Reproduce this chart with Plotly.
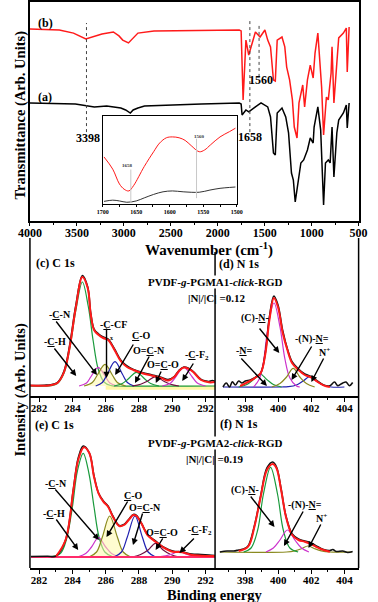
import plotly.graph_objects as go

W, H = 378, 602
FONT = "Liberation Serif, Times New Roman, serif"

# ---------------- FTIR (wavenumber cm-1, transmittance arb. units) ----------------
ftir_b_wn = [4000, 3687, 3536, 3405, 3233, 3112, 3052, 3012, 2951, 2850, 2679, 2174,
             1771, 1751, 1730, 1700, 1670, 1599, 1549, 1498, 1468, 1438, 1407, 1387,
             1367, 1316, 1286, 1266, 1235, 1205, 1185, 1156, 1135, 1095, 1075, 1045,
             1015, 984, 964, 934, 914, 894, 873, 843, 823, 793, 783, 763, 732, 712,
             662, 631, 621, 601]
ftir_b_t = [87.7, 87.2, 85.8, 83.1, 85.4, 86.3, 84.5, 82.6, 81.3, 85.8, 86.8, 87.2,
            87.2, 86.8, 55.3, 82.6, 75.8, 86.3, 84.0, 87.2, 82.6, 79.5, 64.4, 63.9,
            82.6, 84.0, 79.5, 70.3, 64.4, 55.3, 42.9, 37.9, 53.9, 62.1, 52.1, 64.4,
            71.2, 65.3, 76.7, 85.8, 74.9, 61.2, 39.3, 56.6, 55.3, 67.6, 79.5, 53.9,
            72.1, 83.6, 85.8, 88.1, 68.0, 88.6]

ftir_a_wn = [4000, 3687, 3516, 3314, 3183, 3032, 2981, 2931, 2901, 2850, 2780, 2174,
             1771, 1751, 1741, 1700, 1670, 1599, 1539, 1468, 1438, 1407, 1387, 1367,
             1316, 1276, 1246, 1215, 1195, 1175, 1145, 1115, 1085, 1045, 1015, 984,
             974, 934, 904, 894, 873, 853, 823, 803, 783, 763, 732, 712, 662, 631,
             621, 601]
ftir_a_t = [53.9, 53.4, 53.4, 52.1, 52.5, 51.6, 50.7, 49.3, 50.7, 51.6, 52.5, 53.4,
            53.9, 53.4, 48.4, 50.7, 49.8, 52.1, 53.9, 52.1, 47.5, 31.1, 30.1, 49.3,
            51.6, 47.5, 40.2, 21.9, 18.7, 8.7, 18.7, 26.5, 27.9, 32.4, 37.9, 35.6,
            42.9, 52.1, 41.6, 27.9, 7.3, 26.5, 27.9, 26.5, 42.9, 20.1, 40.2, 46.1,
            49.3, 53.0, 42.5, 53.9]

ftir_marks = [3398, 1658, 1560]

# inset, 1700-1500 cm-1
inset_b_wn = [1698, 1685, 1675, 1668, 1661, 1654, 1638, 1624, 1615, 1605, 1596, 1586,
              1577, 1568, 1556, 1548, 1539, 1525, 1511, 1502]
inset_b_t = [53, 39, 22, 16, 14, 20, 42, 59, 69, 75, 76, 75, 72, 66, 59, 61, 67, 76, 82, 86]
inset_a_wn = [1698, 1685, 1675, 1664, 1650, 1638, 1624, 1610, 1596, 1580, 1556, 1540,
              1525, 1511, 1502]
inset_a_t = [2, 3.4, 2.5, 1, 2.5, 6, 10, 13, 14, 13, 12.5, 15, 17, 18, 18.5]

# ---------------- XPS (binding energy eV, intensity arb. units) ----------------
# (c) C 1s, PGMA1
c_raw_be = [281.45, 282.3, 282.7, 283.1, 283.5, 283.85, 284.2, 284.6, 284.92, 285.1, 285.3,
            285.58, 285.85, 286.15, 286.53, 286.9, 287.28, 287.66, 288.2, 288.8, 289.37,
            289.75, 290.12, 290.4, 290.7, 291.0, 291.26, 291.73, 292.0, 292.2, 292.4, 292.57]
c_raw_i = [0.5, 0.8, 1.2, 3.5, 15, 42, 80, 110.5, 99, 73, 57, 52, 49, 47, 37, 26, 20,
           16.5, 13.5, 11, 8.5, 6.5, 9.5, 15.5, 19, 17.5, 14.5, 6.5, 5, 4.5, 5.5, 4.5]
c_fit_be = [281.45, 282.7, 283.1, 283.5, 283.85, 284.2, 284.6, 284.92, 285.1, 285.3, 285.58,
            285.85, 286.15, 286.53, 286.9, 287.28, 287.66, 288.2, 288.8, 289.37, 289.75,
            290.12, 290.4, 290.7, 291.0, 291.26, 291.73, 292.2, 292.57]
c_fit_i = [0.5, 0.8, 3, 14, 40, 78, 109, 98, 72, 56, 51, 48, 46, 36, 25, 19, 16, 12.7,
           10.3, 7.7, 5.5, 9, 15, 18.5, 17, 14, 6, 3.7, 4]
c_comp_be = [
    [281.45, 282.7, 283.1, 283.5, 283.85, 284.2, 284.6, 284.95, 285.25, 285.55, 285.9, 286.3, 286.8, 292.57],
    [284.4, 284.85, 285.1, 285.55, 286.0, 286.25, 286.7],
    [284.7, 285.2, 285.5, 285.96, 286.4, 286.7, 287.2],
    [285.4, 285.8, 286.1, 286.56, 287.0, 287.3, 287.7],
    [286.5, 287.0, 287.35, 287.85, 288.35, 288.7, 289.2],
    [287.6, 288.1, 288.5, 288.99, 289.5, 289.9, 290.4],
    [289.4, 289.9, 290.2, 290.69, 291.2, 291.5, 292.0],
]
c_comp_i = [
    [0, 0.3, 2.5, 13, 38, 75, 104, 80, 45, 17, 4, 0.5, 0, 0],
    [0, 3, 9, 18.7, 9, 3, 0],
    [0, 3.5, 11, 21.7, 11, 3.5, 0],
    [0, 3.5, 12, 24.3, 12, 3.5, 0],
    [0, 2.5, 7, 13.7, 7, 2.5, 0],
    [0, 1.8, 4.7, 9.3, 4.7, 1.8, 0],
    [0, 3, 9, 18.7, 9, 3, 0],
]

# (d) N 1s, PGMA1
d_raw_be = [396.65, 396.85, 397.05, 397.22, 397.4, 397.6, 397.8, 398.0, 398.3, 398.55, 398.93,
            399.22, 399.46, 399.73, 399.98, 400.27, 400.55, 400.84, 401.22, 401.6, 401.98,
            402.36, 402.74, 403.12, 403.4, 403.6, 403.9, 404.1, 404.3, 404.5]
d_raw_i = [0, 4, 0, 5.3, 2, 6, 4, 6, 7, 9, 14, 35, 70, 91, 82, 56, 38, 25, 18, 13, 10.5,
           6, 2, 1.3, 5, 1.3, 4, 5, 1.3, 4.5]
d_fit_be = [397.69, 398.55, 398.93, 399.22, 399.46, 399.73, 399.98, 400.27, 400.55, 400.84,
            401.22, 401.6, 401.98, 402.36, 402.74, 403.12]
d_fit_i = [1, 8.7, 13.7, 33.7, 67, 89, 80, 53.7, 37, 23.7, 17, 12, 9.7, 5.3, 1.7, 0]
d_comp_be = [
    [396.65, 400.2, 400.6, 401.1, 401.5, 401.9, 402.3, 402.7, 403.2, 404.0],
    [397.6, 398.1, 398.5, 398.9, 399.3, 399.7, 400.2],
    [398.5, 398.85, 399.1, 399.35, 399.74, 400.1, 400.4, 400.7, 401.1, 401.3],
    [399.6, 400.1, 400.5, 400.9, 401.3, 401.7, 402.2],
]
d_comp_i = [
    [0, 0, 0.3, 2, 6, 10.3, 6, 2, 0, 0],
    [0, 2.5, 7.5, 13, 7.5, 2.5, 0],
    [0, 8, 25, 57, 84, 60, 28, 9, 1, 0],
    [0, 3.5, 10, 18.7, 10, 3.5, 0],
]

# (e) C 1s, PGMA2
e_raw_be = [281.51, 282.5, 283.02, 283.59, 284.06, 284.35, 284.65, 285.02, 285.3, 285.57,
            285.86, 286.14, 286.43, 286.81, 287.1, 287.38, 287.66, 287.85, 288.14, 288.51,
            288.99, 289.46, 290.03, 290.6, 291.17, 291.74, 292.2, 292.57]
e_raw_i = [0.5, 0.8, 1, 17, 68, 99, 111, 104, 81, 64, 56, 51, 41, 31.5, 32.5, 37.5, 42.5,
           41.5, 34, 22.5, 16, 10, 6, 5, 3, 2.5, 2, 1.5]
e_fit_be = [283.02, 283.59, 284.06, 284.35, 284.69, 285.02, 285.3, 285.57, 285.86, 286.14,
            286.43, 286.81, 287.1, 287.38, 287.66, 287.85, 288.14, 288.51, 288.99, 289.46,
            290.03, 290.6, 291.17, 291.74, 292.57]
e_fit_i = [0.7, 17, 67, 97, 109.7, 103.7, 80, 63.7, 55.3, 50.3, 40.3, 31, 32, 37, 42, 41,
           33.7, 22, 15.3, 9.7, 5.3, 4.7, 2, 1.3, 1]
e_base_be = [281.51, 292.57]
e_base_i = [0, 0]
e_comp_be = [
    [281.51, 282.8, 283.3, 283.65, 284.0, 284.3, 284.65, 285.0, 285.3, 285.6, 285.95, 286.4, 287.0, 292.57],
    [284.3, 284.8, 285.15, 285.57, 286.0, 286.35, 286.85],
    [285.0, 285.45, 285.8, 286.24, 286.7, 287.05, 287.5],
    [286.5, 286.95, 287.3, 287.76, 288.2, 288.55, 289.0],
    [287.6, 288.1, 288.55, 288.99, 289.45, 289.9, 290.4],
    [289.1, 289.6, 290.0, 290.4, 290.8, 291.2, 291.7],
]
e_comp_i = [
    [0, 0.3, 4, 18, 50, 86, 103.7, 83, 50, 20, 5, 0.5, 0, 0],
    [0, 3.5, 10, 19.3, 10, 3.5, 0],
    [0, 5, 20, 41, 20, 5, 0],
    [0, 5, 20, 41, 20, 5, 0],
    [0, 2.5, 7, 13.7, 7, 2.5, 0],
    [0, 1.2, 3, 5.7, 3, 1.2, 0],
]

# (f) N 1s, PGMA2
f_raw_be = [396.46, 396.9, 397.3, 397.6, 397.9, 398.17, 398.55, 398.93, 399.31, 399.66,
            399.89, 400.17, 400.46, 400.84, 401.22, 401.6, 401.98, 402.36, 402.74, 403.12,
            403.3, 403.5, 403.9, 404.2, 404.5]
f_raw_i = [0, 1, 1, 2, 3, 6, 26, 56, 84, 90, 85, 63, 36, 18, 13, 11, 9, 5.5, 2.5, 1.5,
           2.5, 0.5, 1, -0.5, 0.5]
f_fit_be = [397.6, 398.17, 398.55, 398.93, 399.31, 399.66, 399.89, 400.17, 400.46, 400.84,
            401.22, 401.6, 401.98, 402.36, 402.74, 403.12]
f_fit_i = [1, 5.3, 25, 55, 82, 88, 83.7, 62, 35.3, 17, 12, 10.3, 8, 4.7, 2, 0.3]
f_comp_be = [
    [396.46, 400.5, 401.0, 401.4, 401.79, 402.2, 402.6, 403.1, 404.46],
    [397.9, 398.35, 398.75, 399.1, 399.53, 399.95, 400.3, 400.7, 401.2],
    [399.25, 399.7, 400.1, 400.55, 401.0, 401.4, 401.85],
]
f_comp_i = [
    [0, 0, 1.2, 3.3, 6, 3.3, 1.2, 0, 0],
    [0, 4, 22, 58, 84.7, 58, 22, 4, 0],
    [0, 4, 12, 22, 12, 4, 0],
]

GREEN, MAG, OLIVE, BLUE, MAROON = "#1a9a3c", "#cc33cc", "#8a8a20", "#2020b0", "#701040"
RED = "#ff1a1a"
c_colors = [GREEN, MAG, OLIVE, BLUE, GREEN, MAROON, MAG]
d_colors = [BLUE, GREEN, MAG, OLIVE]
e_colors = [GREEN, MAG, OLIVE, BLUE, MAROON, MAG]
f_colors = [OLIVE, GREEN, MAG]


def px(x):
    return x / W


def py(y):
    return 1 - y / H


fig = go.Figure()

# FTIR main
fig.add_trace(go.Scatter(x=ftir_b_wn, y=ftir_b_t, mode="lines",
                         line=dict(color=RED, width=1.5), xaxis="x", yaxis="y"))
fig.add_trace(go.Scatter(x=ftir_a_wn, y=ftir_a_t, mode="lines",
                         line=dict(color="black", width=1.5), xaxis="x", yaxis="y"))
# inset
fig.add_trace(go.Scatter(x=inset_b_wn, y=inset_b_t, mode="lines", line_shape="spline",
                         line=dict(color=RED, width=1), xaxis="x2", yaxis="y2"))
fig.add_trace(go.Scatter(x=inset_a_wn, y=inset_a_t, mode="lines", line_shape="spline",
                         line=dict(color="#333", width=1), xaxis="x2", yaxis="y2"))

panels = [
    ("x3", "y3", c_comp_be, c_comp_i, c_colors, c_raw_be, c_raw_i, c_fit_be, c_fit_i),
    ("x4", "y4", d_comp_be, d_comp_i, d_colors, d_raw_be, d_raw_i, d_fit_be, d_fit_i),
    ("x5", "y5", e_comp_be, e_comp_i, e_colors, e_raw_be, e_raw_i, e_fit_be, e_fit_i),
    ("x6", "y6", f_comp_be, f_comp_i, f_colors, f_raw_be, f_raw_i, f_fit_be, f_fit_i),
]
for xa, ya, cbe, ci, cols, rbe, ri, fbe, fi in panels:
    if xa == "x3":
        fig.add_trace(go.Scatter(x=[286.0, 292.57], y=[-1.8, -1.8], mode="lines",
                                 line=dict(color="#fff7a8", width=4), xaxis=xa, yaxis=ya))
    for be, inten, col in zip(cbe, ci, cols):
        fill = "tozeroy" if col == OLIVE and xa in ("x3", "x5") else None
        fig.add_trace(go.Scatter(x=be, y=inten, mode="lines", line_shape="spline",
                                 line=dict(color=col, width=1.2), fill=fill,
                                 fillcolor="rgba(255,250,170,0.55)", xaxis=xa, yaxis=ya))
    if xa == "x5":
        fig.add_trace(go.Scatter(x=e_base_be, y=e_base_i, mode="lines",
                                 line=dict(color="#ff2a6a", width=2), xaxis=xa, yaxis=ya))
    fig.add_trace(go.Scatter(x=rbe, y=ri, mode="lines", line_shape="spline",
                             line=dict(color="#111", width=1.6), xaxis=xa, yaxis=ya))
    fig.add_trace(go.Scatter(x=fbe, y=fi, mode="lines", line_shape="spline",
                             line=dict(color=RED, width=2), xaxis=xa, yaxis=ya))

tickf = dict(family=FONT, size=11, color="black", weight="bold")
xps_x = dict(showline=True, linecolor="black", linewidth=1.5, ticks="outside", ticklen=4,
             tickwidth=1.2, tickcolor="black", dtick=2, showgrid=False, zeroline=False,
             minor=dict(dtick=1, ticks="outside", ticklen=2.5, tickcolor="black"),
             tickfont=tickf, ticklabelstandoff=-3)
hidden_y = dict(visible=False, showgrid=False, zeroline=False)

fig.update_layout(
    width=W, height=H, margin=dict(l=0, r=0, t=0, b=0),
    paper_bgcolor="white", plot_bgcolor="white", showlegend=False,
    font=dict(family=FONT, color="black"),
    xaxis=dict(domain=[px(19), px(367)], anchor="y", range=[4000, 500], dtick=500,
               tick0=500, ticks="outside", ticklen=3, tickcolor="black",
               minor=dict(dtick=250, ticks="outside", ticklen=2, tickcolor="black"),
               showline=True, mirror=True, linecolor="black", linewidth=1.5,
               showgrid=False, zeroline=False, ticklabelstandoff=-3,
               tickfont=dict(family=FONT, size=12, color="black", weight="bold")),
    yaxis=dict(domain=[py(221), py(2)], anchor="x", range=[0, 100], showline=True,
               mirror=True, linecolor="black", linewidth=1.5, ticks="",
               showticklabels=False, showgrid=False, zeroline=False),
    xaxis2=dict(domain=[px(96), px(238)], anchor="y2", range=[1700, 1500], dtick=50,
                ticks="outside", ticklen=2, tickcolor="black",
                minor=dict(dtick=25, ticks="outside", ticklen=1.5, tickcolor="black"),
                showline=True, mirror=True, linecolor="black", linewidth=1,
                showgrid=False, zeroline=False,
                tickfont=dict(family=FONT, size=6, color="black", weight="bold")),
    yaxis2=dict(domain=[py(204), py(116)], anchor="x2", range=[-1, 100], showline=True,
                mirror=True, linecolor="black", linewidth=1, ticks="",
                showticklabels=False, showgrid=False, zeroline=False),
    xaxis3=dict(domain=[px(19), px(215)], anchor="y3", range=[281.45, 292.57], tick0=282, **xps_x),
    yaxis3=dict(domain=[py(396), py(240)], anchor="x3", range=[-10, 146], **hidden_y),
    xaxis4=dict(domain=[px(215), px(367)], anchor="y4", range=[396.17, 404.86], tick0=398, **xps_x),
    yaxis4=dict(domain=[py(396), py(240)], anchor="x4", range=[-9, 147], **hidden_y),
    xaxis5=dict(domain=[px(19), px(215)], anchor="y5", range=[281.45, 292.57], tick0=282, **xps_x),
    yaxis5=dict(domain=[py(568), py(396)], anchor="x5", range=[-11, 161], **hidden_y),
    xaxis6=dict(domain=[px(215), px(367)], anchor="y6", range=[396.17, 404.86], tick0=398, **xps_x),
    yaxis6=dict(domain=[py(568), py(396)], anchor="x6", range=[-16, 156], **hidden_y),
)

# frame of the XPS block and dotted marker lines
shapes = [
    dict(type="line", xref="paper", yref="paper", x0=px(19), x1=px(19), y0=py(238), y1=py(568)),
    dict(type="line", xref="paper", yref="paper", x0=px(367), x1=px(367), y0=py(238), y1=py(568)),
    dict(type="line", xref="paper", yref="paper", x0=px(215), x1=px(215), y0=py(252), y1=py(568)),
]
for s in shapes:
    s["line"] = dict(color="black", width=1.5)
mark_spans = [(40.6, 90.4), (40.6, 91.8), (65.8, 90.4)]
for wn, (y0, y1) in zip(ftir_marks, mark_spans):
    shapes.append(dict(type="line", xref="x", yref="y", x0=wn, x1=wn, y0=y0, y1=y1,
                       line=dict(color="#444", width=1, dash="dot")))
for wn, (y0, y1) in zip([1658, 1560], [(0, 38.6), (5.7, 73.9)]):
    shapes.append(dict(type="line", xref="x2", yref="y2", x0=wn, x1=wn, y0=y0, y1=y1,
                       line=dict(color="#c8c8c8", width=1)))
fig.update_layout(shapes=shapes)


def label(text, x, y, size=10, angle=0, color="black", bg=None):
    return dict(text="<b>" + text + "</b>", x=px(x), y=py(y), xref="paper", yref="paper",
                showarrow=False, textangle=angle, xanchor="center", yanchor="middle",
                bgcolor=bg, borderpad=0,
                font=dict(family=FONT, size=size, color=color))


def arrow(xa, ya, be, inten, ax, ay):
    return dict(text="", x=be, y=inten, xref=xa, yref=ya, ax=ax, ay=ay, showarrow=True,
                arrowhead=2, arrowsize=0.9, arrowwidth=1.4, arrowcolor="black", standoff=0)


ann = [
    label("(b)", 35, 23, 12), label("(a)", 35, 97, 12),
    label("3398", 80, 138, 12), label("1658", 252, 137, 12), label("1560", 264, 80, 12),
    label("1658", 122, 166, 5, color="#333"), label("1560", 199, 136, 5, color="#333"),
    label("Transmittance (Arb. Units)", 9, 115, 14.5, -90),
    label("Wavenumber (cm<sup>-1</sup>)", 209, 249, 15),
    label("Intensity (Arb. Units)", 8, 390, 14.5, -90),
    label("Binding energy", 214, 594.5, 14.5),
    label("(c) C 1s", 46, 263, 12), label("(d) N 1s", 240, 264, 12),
    label("(e) C 1s", 45, 425, 12), label("(f) N 1s", 240, 424, 12),
    label("PVDF-<i>g</i>-PGMA1-<i>click</i>-RGD", 215, 282, 11, bg="white"),
    label("|N|/|C| =0.12", 217, 298, 11),
    label("PVDF-<i>g</i>-PGMA2-<i>click</i>-RGD", 215, 443, 11, bg="white"),
    label("|N|/|C| =0.19", 214, 459, 11),
    # (c)
    label("-<u>C</u>-H", 46, 341), label("-<u>C</u>-N", 51, 314), label("-<u>C</u>-CF", 107, 324),
    label("x", 105, 338, 6), label("<u>C</u>-O", 137, 335), label("O=<u>C</u>-N", 145, 350),
    label("O=<u>C</u>-O", 160, 364), label("-<u>C</u>-F<sub>2</sub>", 196, 355),
    arrow("x3", "y3", 284.23, 10, -23, -29), arrow("x3", "y3", 285.48, 11, -42, -55),
    arrow("x3", "y3", 286.05, 8, 0, -51), arrow("x3", "y3", 286.57, 11, 19, -32),
    arrow("x3", "y3", 287.76, 3, 15, -28), arrow("x3", "y3", 289.01, 3, 6, -13),
    arrow("x3", "y3", 290.6, 5, 12, -19),
    # (d)
    label("(C)-<u>N</u>-", 257, 318), label("-<u>N</u>=", 246, 350),
    label("-(N)-<u>N</u>=", 318, 339), label("N<sup>+</sup>", 331, 352),
    arrow("x4", "y4", 400.06, 34, -21, -26), arrow("x4", "y4", 399.31, 1, -27, -29),
    arrow("x4", "y4", 400.8, 7, 21, -35), arrow("x4", "y4", 402.0, 5, 13, -25),
    # (e)
    label("-<u>C</u>-N", 47, 483), label("-<u>C</u>-H", 44, 513), label("<u>C</u>-O", 129, 495),
    label("O=<u>C</u>-N", 141, 507), label("O=<u>C</u>-O", 159, 532),
    label("-<u>C</u>-F<sub>2</sub>", 199, 530),
    arrow("x5", "y5", 285.6, 17, -45, -52), arrow("x5", "y5", 284.35, 7, -23, -32),
    arrow("x5", "y5", 286.05, 20, 22, -37), arrow("x5", "y5", 287.64, 12, 10, -33),
    arrow("x5", "y5", 289.0, 7, 8, -13), arrow("x5", "y5", 290.43, 4, 16, -16),
    # (f)
    label("(C)-<u>N</u>-", 247, 490), label("-(N)-<u>N</u>=", 310, 505),
    label("N<sup>+</sup>", 328, 518),
    arrow("x6", "y6", 399.77, 25, -25, -32), arrow("x6", "y6", 400.34, 6, 20, -36),
    arrow("x6", "y6", 401.83, 4, 13, -25),
]
fig.update_layout(annotations=ann)

fig.write_html("out.html", config={"displayModeBar": False},
               post_script="document.body.style.margin='0';")
